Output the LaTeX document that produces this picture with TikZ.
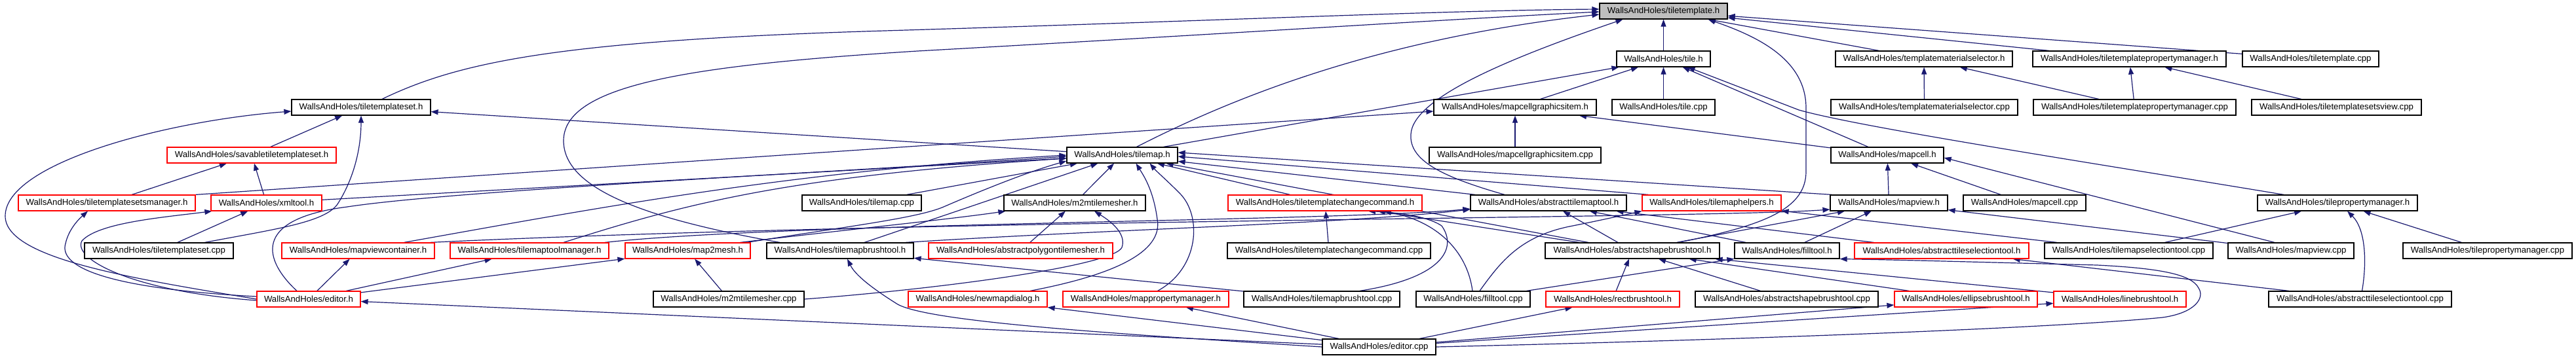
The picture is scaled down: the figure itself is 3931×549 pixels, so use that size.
\documentclass[tikz,border=0pt]{standalone}
\usepackage{fontspec}
\setmainfont{Liberation Sans}
\usetikzlibrary{arrows.meta}
\definecolor{edgecol}{HTML}{191970}
\definecolor{rootfill}{HTML}{BFBFBF}
\pgfdeclarelayer{edgelayer}
\pgfsetlayers{edgelayer,main}
\newcommand\fnode[5]{\node[#1, minimum width=#4pt] (#2) at (#3) {WallsAndHoles/#5};}
\begin{document}
\begin{tikzpicture}[x=1pt,y=-1pt,
  nb/.style={draw=black, fill=white, line width=1.2pt, minimum height=24pt, inner sep=0pt, font=\fontsize{13.2}{15}\selectfont},
  rb/.style={nb, draw=red},
  root/.style={nb, fill=rootfill},
  edge/.style={draw=edgecol, line width=1.2pt, -{Triangle[length=11pt,width=8pt]}}]
\useasboundingbox (0,0) rectangle (3931,549);
% row 0
\fnode{root}{TT}{2538.5,17}{195}{tiletemplate.h}
% row 1
\fnode{nb}{TILE}{2538.5,90}{143}{tile.h}
\fnode{nb}{TMS}{2936,90}{270}{templatematerialselector.h}
\fnode{nb}{TTPM}{3249.5,90}{295}{tiletemplatepropertymanager.h}
\fnode{nb}{TTCPP}{3526,90}{208}{tiletemplate.cpp}
% row 2
\fnode{nb}{TTS}{551,164}{212}{tiletemplateset.h}
\fnode{nb}{MCGI}{2312,164}{248}{mapcellgraphicsitem.h}
\fnode{nb}{TILECPP}{2538.5,164}{157}{tile.cpp}
\fnode{nb}{TMSCPP}{2936.5,164}{285}{templatematerialselector.cpp}
\fnode{nb}{TTPMCPP}{3257.5,164}{309}{tiletemplatepropertymanager.cpp}
\fnode{nb}{TTSVCPP}{3565.5,164}{259}{tiletemplatesetsview.cpp}
% row 3
\fnode{rb}{STTS}{384,237}{258}{savabletiletemplateset.h}
\fnode{nb}{TM}{1712.5,237}{169}{tilemap.h}
\fnode{nb}{MCGICPP}{2312,237}{262}{mapcellgraphicsitem.cpp}
\fnode{nb}{MC}{2880,237}{172}{mapcell.h}
% row 4
\fnode{rb}{TTSM}{163,310}{270}{tiletemplatesetsmanager.h}
\fnode{rb}{XML}{406.5,310}{169}{xmltool.h}
\fnode{nb}{TMCPP}{1315,310}{182}{tilemap.cpp}
\fnode{nb}{M2MH}{1640,310}{216}{m2mtilemesher.h}
\fnode{rb}{TTCC}{2022,310}{296}{tiletemplatechangecommand.h}
\fnode{nb}{ATMT}{2363,310}{238}{abstracttilemaptool.h}
\fnode{rb}{TMH}{2612,310}{212}{tilemaphelpers.h}
\fnode{nb}{MV}{2882.5,310}{179}{mapview.h}
\fnode{nb}{MCCPP}{3089.5,310}{187}{mapcell.cpp}
\fnode{nb}{TPM}{3567,310}{244}{tilepropertymanager.h}
% row 5
\fnode{nb}{TTSCPP}{242.5,383}{227}{tiletemplateset.cpp}
\fnode{rb}{MVC}{546.5,383}{233}{mapviewcontainer.h}
\fnode{rb}{TMTM}{808,383}{242}{tilemaptoolmanager.h}
\fnode{rb}{M2M}{1049.5,383}{191}{map2mesh.h}
\fnode{nb}{TMBT}{1282,383}{224}{tilemapbrushtool.h}
\fnode{rb}{APTM}{1557.5,383}{281}{abstractpolygontilemesher.h}
\fnode{nb}{TTCCCPP}{2028,383}{310}{tiletemplatechangecommand.cpp}
\fnode{nb}{ASBT}{2491,383}{266}{abstractshapebrushtool.h}
\fnode{nb}{FT}{2727,383}{160}{filltool.h}
\fnode{rb}{ATST}{2963,383}{266}{abstracttileselectiontool.h}
\fnode{nb}{TMSTCPP}{3248.5,383}{257}{tilemapselectiontool.cpp}
\fnode{nb}{MVCPP}{3496,383}{192}{mapview.cpp}
\fnode{nb}{TPMCPP}{3796,383}{258}{tilepropertymanager.cpp}
% row 6
\fnode{rb}{EDH}{471,457}{158}{editor.h}
\fnode{nb}{M2MCPP}{1112,457}{230}{m2mtilemesher.cpp}
\fnode{rb}{NMD}{1492,457}{212}{newmapdialog.h}
\fnode{rb}{MPM}{1748.5,457}{253}{mappropertymanager.h}
\fnode{nb}{TMBTCPP}{2017,457}{238}{tilemapbrushtool.cpp}
\fnode{nb}{FTCPP}{2248,457}{174}{filltool.cpp}
\fnode{rb}{RBT}{2461,457}{204}{rectbrushtool.h}
\fnode{nb}{ASBTCPP}{2726.5,457}{279}{abstractshapebrushtool.cpp}
\fnode{rb}{EBT}{3000,457}{218}{ellipsebrushtool.h}
\fnode{rb}{LBT}{3235,457}{202}{linebrushtool.h}
\fnode{nb}{ATSTCPP}{3601.5,457}{279}{abstracttileselectiontool.cpp}
% row 7
\fnode{nb}{EDCPP}{2104.5,530}{173}{editor.cpp}

\begin{pgfonlayer}{edgelayer}
% ---- edges to tiletemplate.h
\draw[edge] (TILE) -- (TT);
\draw[edge] ([xshift=32pt]TTS.north) .. controls (700,95) and (850,62) .. (1350,47) .. controls (1850,32) and (2200,16) .. ([yshift=3pt]TT.west);
\draw[edge] ([xshift=-92pt]TMBT.north) .. controls (990,335) and (860,290) .. (860,215) .. controls (860,130) and (1050,100) .. (1400,78) .. controls (1900,50) and (2200,30) .. ([yshift=-1pt]TT.west);
\draw[edge] ([xshift=22pt]TM.north) .. controls (1880,150) and (2100,60) .. ([yshift=-5pt]TT.west);
\draw[edge] ([xshift=-67pt]ATMT.north) .. controls (2200,270) and (2150,245) .. (2153,205) .. controls (2156,150) and (2300,90) .. ([xshift=-62pt]TT.south);
\draw[edge] ([xshift=70pt]ASBT.north) .. controls (2690,345) and (2756,320) .. (2756,262) -- (2756,165) .. controls (2756,90) and (2680,55) .. ([xshift=68pt]TT.south);
\draw[edge] (TMS) -- (TT);
\draw[edge] (TTPM) -- (TT);
\draw[edge] (TTCPP) -- (TT);
% ---- tile.h
\draw[edge] ([xshift=63pt]TM.north) -- ([xshift=4pt]TILE.south west);
\draw[edge] (MCGI) -- (TILE);
\draw[edge] (TILECPP) -- (TILE);
\draw[edge] (MC) -- (TILE);
\draw[edge] ([xshift=-82pt]TPM.north) .. controls (3200,250) and (2840,195) .. (2745,168) -- ([xshift=37pt]TILE.south);
% ---- mapcellgraphicsitem.h
\draw[edge] (TTSM.north east) -- ([yshift=-6pt]MCGI.west);
\draw[edge] (MCGICPP) -- (MCGI);
\draw[edge] (MC) -- (MCGI);
% ---- templatematerialselector / tiletemplatepropertymanager
\draw[edge] (TMSCPP) -- (TMS);
\draw[edge] (TTPMCPP) -- (TMS);
\draw[edge] (TTPMCPP) -- (TTPM);
\draw[edge] (TTSVCPP) -- (TTPM);
% ---- tiletemplateset.h
\draw[edge] (STTS) -- (TTS);
\draw[edge] ([xshift=70pt]TTSCPP.north) .. controls (420,350) and (495,340) .. (515,312) .. controls (545,265) and (551,215) .. (TTS.south);
\draw[edge] (EDH.west) .. controls (200,425) and (8,395) .. (8,330) .. controls (8,250) and (250,185) .. ([yshift=-6pt]TTS.west);
\draw[edge] (TM) -- (TTS);
% ---- savabletiletemplateset.h
\draw[edge] (TTSM) -- (STTS);
\draw[edge] (XML) -- (STTS);
% ---- tiletemplatesetsmanager.h / xmltool.h
\draw[edge] ([yshift=4pt]EDH.west) .. controls (150,440) and (90,405) .. (100,372) .. controls (105,350) and (120,335) .. ([xshift=-29pt]TTSM.south);
\draw[edge] ([yshift=-2pt]EDH.west) .. controls (200,445) and (110,395) .. (125,368) .. controls (150,340) and (250,332) .. ([xshift=2pt]XML.south west);
\draw[edge] (TTSCPP) -- (XML);
% ---- tilemap.h
\draw[edge] (XML) -- (TM);
\draw[edge] ([xshift=-18pt]EDH.north) .. controls (405,400) and (380,335) .. (530,316) .. controls (700,290) and (1300,262) .. ([yshift=-2pt]TM.west);
\draw[edge] ([xshift=70pt]MVC.north) .. controls (900,320) and (1200,262) .. (TM.west);
\draw[edge] ([xshift=52pt]TMTM.north) .. controls (1050,310) and (1200,270) .. ([yshift=-5pt]TM.west);
\draw[edge] (TMCPP) -- (TM);
\draw[edge] (TMBT) -- (TM);
\draw[edge] ([xshift=90pt]M2M.north) .. controls (1300,345) and (1400,333) .. (1440,316) .. controls (1500,290) and (1570,262) .. ([yshift=-9pt]TM.west);
\draw[edge] (M2MH) -- (TM);
\draw[edge] ([xshift=80pt]NMD.north) .. controls (1700,420) and (1775,385) .. (1766,335) .. controls (1760,290) and (1745,268) .. ([xshift=21pt]TM.south);
\draw[edge] ([xshift=18pt]MPM.north) .. controls (1830,410) and (1835,330) .. (1800,295) .. controls (1780,275) and (1765,262) .. ([xshift=42pt]TM.south);
\draw[edge] (TTCC) -- (TM);
\draw[edge] (ATMT) -- (TM);
\draw[edge] ([xshift=10pt]TMH.north west) -- ([yshift=-2pt]TM.east);
\draw[edge] ([xshift=3pt]MV.north west) -- ([yshift=4pt]TM.east);
\draw[edge] (ASBT) -- (TM);
% ---- editor.h out
\draw[edge] (EDH) -- (MVC);
\draw[edge] (EDH) -- (TMTM);
\draw[edge] (EDH) -- (M2M);
% ---- map2mesh / m2mtilemesher
\draw[edge] (M2MCPP) -- (M2M);
\draw[edge] ([xshift=80pt]M2M.north) .. controls (1300,350) and (1450,335) .. ([xshift=3pt]M2MH.south west);
\draw[edge] (APTM) -- (M2MH);
\draw[edge] (M2MCPP.east) .. controls (1450,440) and (1700,405) .. (1712,378) .. controls (1720,355) and (1690,335) .. ([xshift=30pt]M2MH.south);
% ---- tilemapbrushtool.h
\draw[edge] (TMBTCPP) -- (TMBT);
\draw[edge] (EDCPP.west) .. controls (1700,510) and (1420,492) .. (1370,465) .. controls (1330,440) and (1305,420) .. ([xshift=11pt]TMBT.south);
% ---- editor.cpp out
\draw[edge] (EDCPP) -- (EDH);
\draw[edge] (EDCPP) -- (NMD);
\draw[edge] (EDCPP) -- (MPM);
\draw[edge] (EDCPP) -- (RBT);
\draw[edge] (EDCPP) -- (EBT);
\draw[edge] (EDCPP) -- (LBT);
\draw[edge] (EDCPP.east) .. controls (2700,518) and (3150,500) .. (3300,485) .. controls (3350,478) and (3365,455) .. (3355,440) .. controls (3345,420) and (3300,410) .. (3200,405) .. controls (3000,400) and (2900,397) .. (FT.south east);
% ---- tiletemplatechangecommand.h
\draw[edge] (TTCCCPP) -- (TTCC);
\draw[edge] ([xshift=58pt]TMBTCPP.north) .. controls (2200,425) and (2225,380) .. (2200,345) .. controls (2175,328) and (2120,324) .. ([xshift=66pt]TTCC.south);
\draw[edge] ([xshift=-1pt]FTCPP.north) .. controls (2240,390) and (2200,340) .. ([xshift=90pt]TTCC.south);
\draw[edge] (ASBT) -- (TTCC);
% ---- abstracttilemaptool.h
\draw[edge] ([xshift=115pt]TMTM.north) .. controls (1200,340) and (2050,338) .. ([yshift=-9pt]ATMT.west);
\draw[edge] ([xshift=100pt]TMBT.north) .. controls (1700,350) and (2050,342) .. ([yshift=-10pt]ATMT.west);
\draw[edge] (ASBT) -- (ATMT);
\draw[edge] (FT) -- (ATMT);
\draw[edge] (ATST) -- (ATMT);
% ---- tilemaphelpers.h
\draw[edge] ([xshift=10pt]FTCPP.north) .. controls (2290,400) and (2320,360) .. (2400,345) .. controls (2450,335) and (2480,328) .. (TMH.south west);
\draw[edge] (TMSTCPP) -- (TMH);
% ---- mapview.h
\draw[edge] ([xshift=110pt]MVC.north) .. controls (1400,335) and (2600,334) .. ([yshift=-10pt]MV.west);
\draw[edge] (ASBT) -- (MV);
\draw[edge] (FT) -- (MV);
\draw[edge] (MVCPP) -- (MV);
% ---- mapcell.h
\draw[edge] (MV) -- (MC);
\draw[edge] (MCCPP) -- (MC);
\draw[edge] ([xshift=-25pt]MVCPP.north) -- ([yshift=-4pt]MC.east);
% ---- abstractshapebrushtool.h
\draw[edge] (RBT) -- (ASBT);
\draw[edge] (ASBTCPP) -- (ASBT);
\draw[edge] (EBT) -- (ASBT);
\draw[edge] (LBT) -- (ASBT);
% ---- filltool.h / abstracttileselectiontool.h
\draw[edge] (FTCPP) -- (FT);
\draw[edge] (ATSTCPP) -- (ATST);
% ---- tilepropertymanager.h
\draw[edge] (TMSTCPP) -- (TPM);
\draw[edge] ([xshift=3pt]ATSTCPP.north) .. controls (3612,400) and (3610,350) .. ([xshift=15pt]TPM.south);
\draw[edge] (TPMCPP) -- (TPM);
\end{pgfonlayer}
\end{tikzpicture}
\end{document}
